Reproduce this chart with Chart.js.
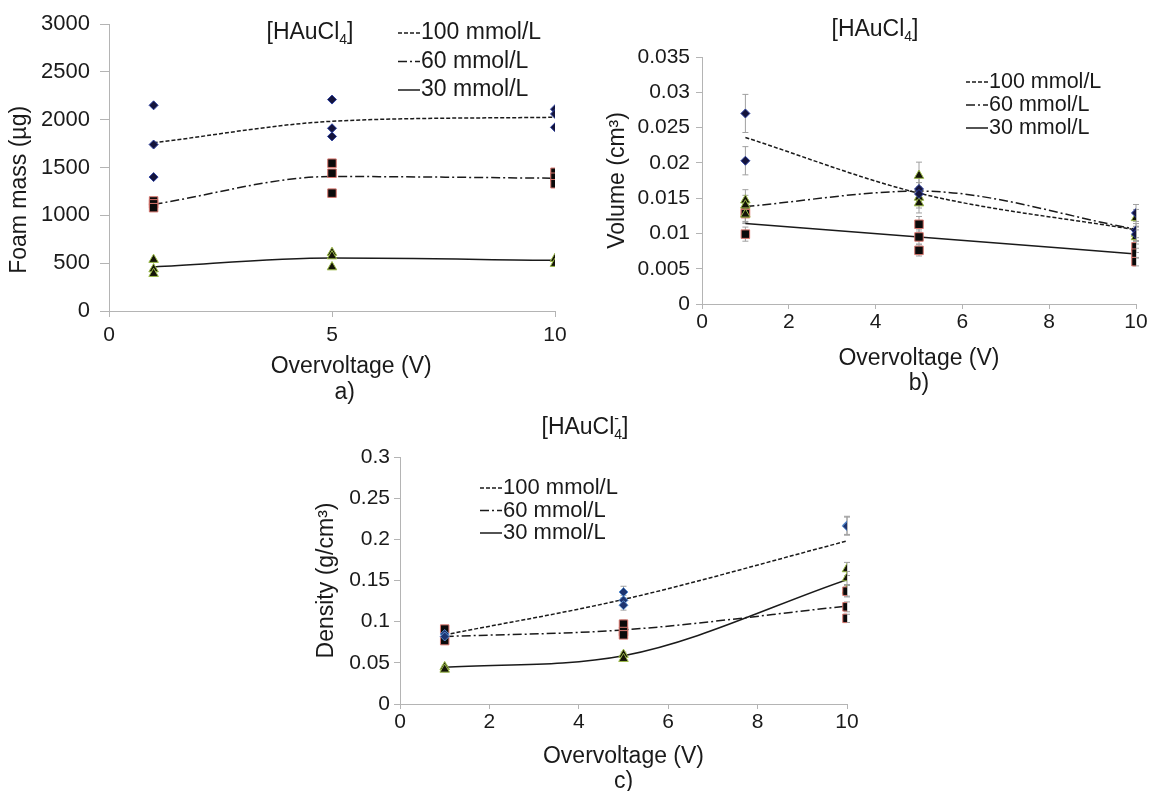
<!DOCTYPE html>
<html>
<head>
<meta charset="utf-8">
<script src="https://cdn.jsdelivr.net/npm/chart.js@4/dist/chart.umd.min.js"></script>
<style>
  html, body { margin: 0; padding: 0; background: #fff; overflow: hidden; }
  body { width: 1149px; height: 791px; position: relative; }
  canvas { position: absolute; }
  #chartA { left: 0; top: 0; }
  #chartB { left: 580px; top: 0; }
  #chartC { left: 300px; top: 410px; }
</style>
</head>
<body>
<canvas id="chartA" width="580" height="410"></canvas>
<canvas id="chartB" width="569" height="400"></canvas>
<canvas id="chartC" width="570" height="390"></canvas>
<script>
const volts = [1, 5, 10];
const legendLabels = ['100 mmol/L', '60 mmol/L', '30 mmol/L'];
const titleMain = '[HAuCl';
const titleSub = '4';

// a) foam mass (µg) - replicate points per overvoltage
const massPts100 = [[2150, 1740, 1400], [2210, 1910, 1825], [2110, 2060, 1920]];
const massPts60 = [[1150, 1120, 1080], [1545, 1440, 1232], [1450, 1398, 1330]];
const massPts30 = [[537, 438, 390], [610, 574, 459], [547, 495]];
const massFit100 = [1758, 1983, 2025];
const massFit60 = [1115, 1406, 1388];
const massFit30 = [460, 553, 530];

// b) volume (cm3)
const volPts100 = [[0.0270, 0.0203], [0.0163, 0.0156], [0.0129, 0.0104, 0.0099]];
const volErr100 = [[0.0027, 0.0020], [0.0017, 0.0016], [0.0012, 0.0010, 0.0010]];
const volPts60 = [[0.0147, 0.0140, 0.0127], [0.0182, 0.0151, 0.0143], [0.0122, 0.0100, 0.0095]];
const volErr60 = [[0.0015, 0.0014, 0.0013], [0.0019, 0.0015, 0.0014], [0.0012, 0.0010, 0.0010]];
const volPts30 = [[0.0130, 0.0128, 0.0099], [0.0113, 0.0095, 0.0076], [0.0081, 0.0072, 0.0060]];
const volErr30 = [[0.0013, 0.0013, 0.0010], [0.0011, 0.0010, 0.0008], [0.0008, 0.0007, 0.0006]];
const volFit100 = [0.0236, 0.0157, 0.0105];
const volFit60 = [0.0138, 0.0160, 0.0106];
const volFit30 = [0.0114, 0.0095, 0.0071];

// c) density (g/cm3)
const denPts100 = [[0.085, 0.082], [0.136, 0.126, 0.120], [0.217, 0.216]];
const denErr100 = [[0.004, 0.004], [0.007, 0.006, 0.006], [0.011, 0.011]];
const denPts60 = [[0.091, 0.077], [0.097, 0.088, 0.084], [0.137, 0.118, 0.104]];
const denErr60 = [[0.004, 0.004], [0.005, 0.004, 0.004], [0.007, 0.006, 0.005]];
const denPts30 = [[0.045, 0.042], [0.060, 0.055], [0.164, 0.153, 0.138]];
const denErr30 = [[0.002, 0.002], [0.003, 0.003], [0.008, 0.008, 0.007]];
const denFit100 = [0.084, 0.127, 0.198];
const denFit60 = [0.082, 0.090, 0.119];
const denFit30 = [0.0445, 0.0587, 0.151];

const FONT = "'Liberation Sans', Arial, sans-serif";
const INK = '#1a1a1a';
const AXIS = '#b4b4b4';
const dashes = [[4, 2], [9, 3, 2, 3], []];

const diamond = { pointStyle: 'rectRot', pointRadius: 4.5, backgroundColor: '#14143c', borderColor: '#2b3f9e', borderWidth: 1 };
const diamondBlue = { pointStyle: 'rectRot', pointRadius: 4.5, backgroundColor: '#1d3470', borderColor: '#5a8fd0', borderWidth: 1 };
const square = { pointStyle: 'rect', pointRadius: 6, backgroundColor: '#0a0a0a', borderColor: '#d9776f', borderWidth: 1 };
const triangle = { pointStyle: 'triangle', pointRadius: 5.5, backgroundColor: '#141408', borderColor: '#9dbb4a', borderWidth: 1 };

function toPoints(groups) {
  return volts.flatMap((v, i) => groups[i].map(y => ({ x: v, y })));
}

function markerSet(groups, errs, style) {
  return Object.assign({ type: 'scatter', label: '', data: toPoints(groups), errors: errs ? errs.flat() : null }, style);
}

function fitSets(fits) {
  return fits.map((vals, k) => ({
    type: 'line',
    label: legendLabels[k],
    data: vals.map((y, i) => ({ x: volts[i], y })),
    borderColor: INK,
    borderWidth: 1.5,
    borderDash: dashes[k],
    pointRadius: 0,
    cubicInterpolationMode: 'monotone',
    fill: false,
    isFit: true
  }));
}

// error bars drawn under the markers
const errorBars = {
  id: 'errorBars',
  beforeDatasetsDraw(chart) {
    const { ctx, scales: { x, y } } = chart;
    ctx.save();
    ctx.strokeStyle = '#a0a0a0';
    ctx.lineWidth = 1;
    chart.data.datasets.forEach(ds => {
      if (!ds.errors) return;
      ds.data.forEach((p, j) => {
        const px = x.getPixelForValue(p.x);
        const top = y.getPixelForValue(p.y + ds.errors[j]);
        const bot = y.getPixelForValue(p.y - ds.errors[j]);
        ctx.beginPath();
        ctx.moveTo(px, top); ctx.lineTo(px, bot);
        ctx.moveTo(px - 3, top); ctx.lineTo(px + 3, top);
        ctx.moveTo(px - 3, bot); ctx.lineTo(px + 3, bot);
        ctx.stroke();
      });
    });
    ctx.restore();
  }
};

// [HAuCl4] label with subscript
const formulaTitle = {
  id: 'formulaTitle',
  afterDraw(chart, args, o) {
    const ctx = chart.ctx;
    const big = `${o.size}px ${FONT}`;
    const small = `${Math.round(o.size * 0.62)}px ${FONT}`;
    ctx.save();
    ctx.fillStyle = INK;
    ctx.textBaseline = 'middle';
    ctx.font = big;
    const w1 = ctx.measureText(titleMain).width;
    const w3 = ctx.measureText(']').width;
    ctx.font = small;
    const w2 = ctx.measureText(titleSub).width;
    let x = o.x - (w1 + w2 + w3) / 2;
    ctx.font = big;
    ctx.fillText(titleMain, x, o.y);
    x += w1;
    ctx.font = small;
    ctx.fillText(titleSub, x, o.y + o.size * 0.32);
    if (o.charge) ctx.fillText('-', x, o.y - o.size * 0.38);
    x += w2;
    ctx.font = big;
    ctx.fillText(']', x, o.y);
    ctx.restore();
  }
};

// legend with line samples, placed inside the plot
const lineLegend = {
  id: 'lineLegend',
  afterDraw(chart, args, o) {
    const ctx = chart.ctx;
    const fits = chart.data.datasets.filter(d => d.isFit);
    ctx.save();
    ctx.font = `${o.size}px ${FONT}`;
    ctx.textBaseline = 'middle';
    ctx.fillStyle = INK;
    fits.forEach((d, k) => {
      const y = o.y + k * o.row;
      ctx.strokeStyle = INK;
      ctx.lineWidth = 1.5;
      ctx.setLineDash(d.borderDash);
      ctx.beginPath();
      ctx.moveTo(o.x, y);
      ctx.lineTo(o.x + o.w, y);
      ctx.stroke();
      ctx.setLineDash([]);
      ctx.fillText(d.label, o.x + o.w + 1, y);
    });
    ctx.restore();
  }
};

function makeChart(id, c) {
  return new Chart(document.getElementById(id), {
    type: 'scatter',
    data: { datasets: c.datasets },
    plugins: [errorBars, formulaTitle, lineLegend],
    options: {
      responsive: false,
      animation: false,
      events: [],
      layout: { padding: c.pad },
      plugins: {
        legend: { display: false },
        tooltip: { enabled: false },
        formulaTitle: c.title,
        lineLegend: c.legend
      },
      scales: {
        x: {
          type: 'linear', min: 0, max: 10,
          ticks: { stepSize: c.xStep, padding: c.xTickPad, color: INK, font: { family: FONT, size: 21 } },
          grid: { drawOnChartArea: false, tickLength: c.xTickLen, color: AXIS },
          border: { color: AXIS },
          title: {
            display: true, text: c.xTitle, color: INK,
            font: { family: FONT, size: 23, lineHeight: c.xLine },
            padding: { top: 0, bottom: c.xTitlePad }
          },
          afterFit: s => { s.height = c.xHeight; }
        },
        y: {
          min: 0, max: c.yMax,
          ticks: { stepSize: c.yStep, padding: c.yTickPad, color: INK, font: { family: FONT, size: c.yFont }, callback: c.fmt },
          grid: { drawOnChartArea: false, tickLength: c.yTickLen, color: AXIS },
          border: { color: AXIS },
          title: {
            display: true, text: c.yTitle, color: INK,
            font: { family: FONT, size: 23 },
            padding: { top: c.yTitlePad, bottom: 0 }
          },
          afterFit: s => { s.width = c.yWidth; }
        }
      }
    }
  });
}

makeChart('chartA', {
  datasets: [
    markerSet(massPts100, null, diamond),
    markerSet(massPts60, null, square),
    markerSet(massPts30, null, triangle),
    ...fitSets([massFit100, massFit60, massFit30])
  ],
  pad: { top: 24, right: 25, left: 0, bottom: 0 },
  title: { x: 310, y: 33, size: 23 },
  legend: { x: 398, y: 33, row: 28.5, w: 22, size: 23 },
  // the original figure sets these titles a little off-centre
  xTitle: ['      Overvoltage (V)', '    a)'],
  xStep: 5, xTickPad: 6, xTickLen: 6, xHeight: 99, xTitlePad: 4, xLine: 26 / 23,
  yMax: 3000, yStep: 500, yTickPad: 10, yTickLen: 9, yWidth: 109, yTitlePad: 6, yFont: 22,
  yTitle: 'Foam mass (µg)       ', fmt: v => String(v)
});

makeChart('chartB', {
  datasets: [
    markerSet(volPts100, volErr100, diamond),
    markerSet(volPts60, volErr60, triangle),
    markerSet(volPts30, volErr30, square),
    ...fitSets([volFit100, volFit60, volFit30])
  ],
  pad: { top: 57, right: 13, left: 0, bottom: 0 },
  title: { x: 295, y: 30, size: 23 },
  legend: { x: 386, y: 82, row: 23, w: 22, size: 21.5 },
  xTitle: ['Overvoltage (V)', 'b)'],
  xStep: 2, xTickPad: 1, xTickLen: 5, xHeight: 96, xTitlePad: 4, xLine: 25 / 23,
  yMax: 0.035, yStep: 0.005, yTickPad: 6, yTickLen: 6, yWidth: 122, yTitlePad: 24, yFont: 21,
  yTitle: 'Volume (cm³)', fmt: v => String(+v.toFixed(3))
});

makeChart('chartC', {
  datasets: [
    markerSet(denPts100, denErr100, diamondBlue),
    markerSet(denPts60, denErr60, square),
    markerSet(denPts30, denErr30, triangle),
    ...fitSets([denFit100, denFit60, denFit30])
  ],
  pad: { top: 47, right: 23, left: 0, bottom: 0 },
  title: { x: 285, y: 18, size: 23, charge: true },
  legend: { x: 180, y: 78, row: 22.5, w: 22, size: 22 },
  xTitle: ['Overvoltage (V)', 'c)'],
  xStep: 2, xTickPad: 1, xTickLen: 5, xHeight: 96, xTitlePad: 6, xLine: 25 / 23,
  yMax: 0.3, yStep: 0.05, yTickPad: 4, yTickLen: 6, yWidth: 100, yTitlePad: 13, yFont: 21,
  yTitle: 'Density (g/cm³)', fmt: v => String(+v.toFixed(2))
});
</script>
</body>
</html>
